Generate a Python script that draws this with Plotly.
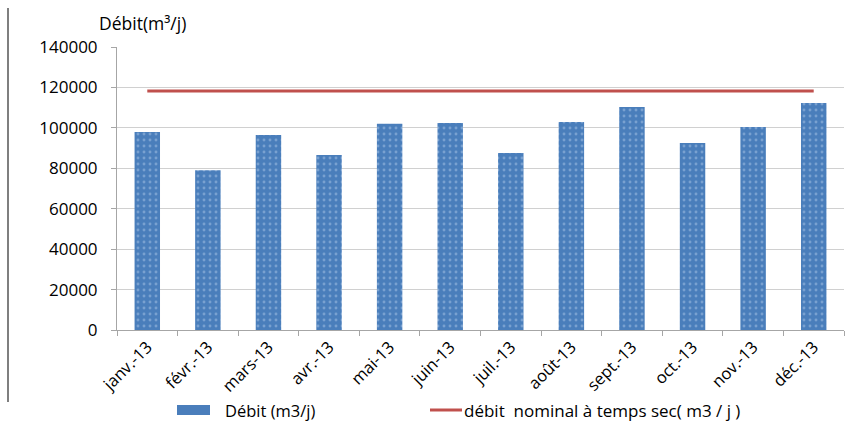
import plotly.graph_objects as go

months = ["janv.-13", "févr.-13", "mars-13", "avr.-13", "mai-13", "juin-13",
          "juil.-13", "août-13", "sept.-13", "oct.-13", "nov.-13", "déc.-13"]
debit = [98000, 79000, 96500, 86600, 102000, 102400,
         87600, 102900, 110300, 92500, 100400, 112300]
nominal = [118200] * len(months)
y_ticks = [0, 20000, 40000, 60000, 80000, 100000, 120000, 140000]

W, H = 853, 426
L, R, T, B = 117, 9, 47, 96
pw, ph = W - L - R, H - T - B

def px(x):
    return (x - L) / pw

def py(y):
    return (H - B - y) / ph

FONT = "Open Sans"
BLUE = "#4a7ebb"
RED = "#c0504d"

fig = go.Figure()
fig.add_trace(go.Bar(
    x=months, y=debit, name="Débit (m3/j)", width=0.42,
    marker=dict(color=BLUE, line=dict(width=0),
                pattern=dict(shape=".", fillmode="overlay", fgcolor="#a8c3e6",
                             size=6, solidity=0.18)),
    showlegend=False,
))
fig.add_trace(go.Scatter(
    x=months, y=nominal, name="débit  nominal à temps sec( m3 / j )",
    mode="lines", line=dict(color=RED, width=3), showlegend=False,
))

shapes = [
    # frame line on the left of the chart area
    dict(type="line", xref="paper", yref="paper", x0=px(8), x1=px(8),
         y0=py(8), y1=py(402), line=dict(color="#7f7f7f", width=2)),
    # legend swatches
    dict(type="rect", xref="paper", yref="paper", x0=px(177), x1=px(210),
         y0=py(415), y1=py(405), fillcolor=BLUE, line=dict(width=0)),
    dict(type="line", xref="paper", yref="paper", x0=px(430), x1=px(462),
         y0=py(410), y1=py(410), line=dict(color=RED, width=3)),
]

annotations = [
    dict(text="Débit(m³/j)", xref="paper", yref="paper", x=px(97), y=py(23),
         xanchor="left", yanchor="middle", showarrow=False,
         font=dict(family=FONT, size=17.5, color="#000000")),
    dict(text="Débit (m3/j)", xref="paper", yref="paper", x=px(223), y=py(410),
         xanchor="left", yanchor="middle", showarrow=False,
         font=dict(family=FONT, size=16.5, color="#000000")),
    dict(text="débit  nominal à temps sec( m3 / j )", xref="paper", yref="paper",
         x=px(462), y=py(410), xanchor="left", yanchor="middle", showarrow=False,
         font=dict(family=FONT, size=17, color="#000000")),
]

fig.update_layout(
    width=W, height=H,
    margin=dict(l=L, r=R, t=T, b=B, pad=0),
    paper_bgcolor="white", plot_bgcolor="white",
    font=dict(family=FONT, size=16, color="#000000"),
    bargap=0.58,
    shapes=shapes, annotations=annotations,
    xaxis=dict(
        type="category", tickangle=-45, tickson="boundaries",
        ticks="outside", ticklen=5, tickcolor="#a6a6a6",
        showline=True, linecolor="#a6a6a6", linewidth=1,
        showgrid=False, tickfont=dict(family=FONT, size=16.5),
    ),
    yaxis=dict(
        range=[0, 140000], tickvals=y_ticks, ticktext=[str(v) for v in y_ticks],
        showgrid=True, gridcolor="#d0d0d0", gridwidth=1,
        showline=True, linecolor="#a6a6a6", linewidth=1,
        ticks="outside", ticklen=5, tickcolor="#a6a6a6",
        ticklabelstandoff=10,
        zeroline=False, tickfont=dict(family=FONT, size=17),
    ),
)

fig.write_html("out.html")
